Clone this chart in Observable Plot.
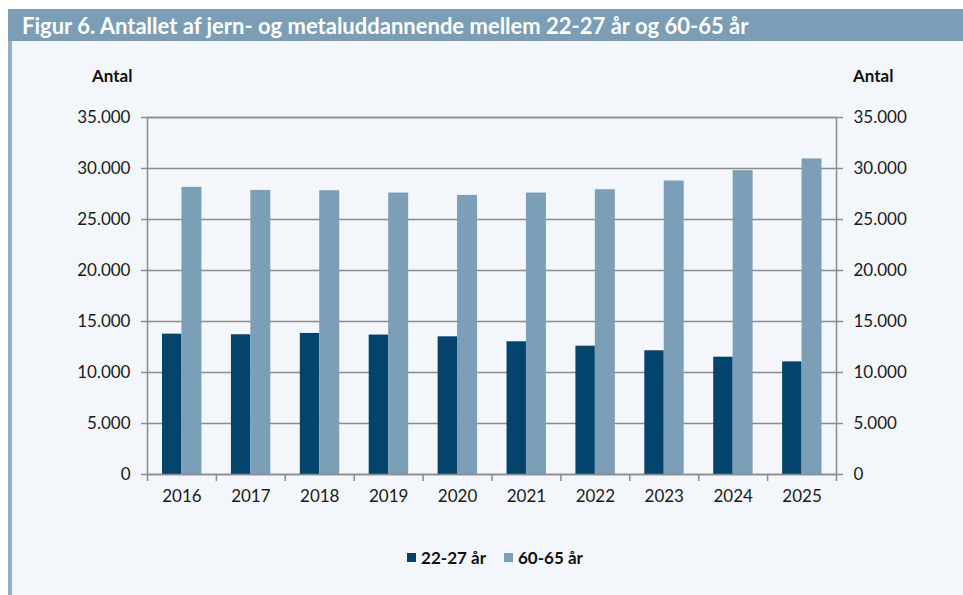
<!DOCTYPE html>
<html><head><meta charset="utf-8">
<script src="https://cdn.jsdelivr.net/npm/d3@7"></script>
<script src="https://cdn.jsdelivr.net/npm/@observablehq/plot@0.6"></script>
<style>
body{margin:0;background:#fff;}
#wrap{position:relative;width:963px;height:595px;background:#fff;font-family:Lato,"Open Sans",sans-serif;overflow:hidden}
#panel{position:absolute;left:8px;top:41px;width:955px;height:554px;background:#f3f6fa;border-left:4px solid #8fb0c6;box-sizing:border-box}
#title{position:absolute;left:8px;top:9px;width:955px;height:32px;background:#7b9db5;color:#fff;font-weight:700;font-size:22px;line-height:33px;padding-left:14px;box-sizing:border-box;white-space:nowrap}
#chart{position:absolute;left:0;top:50px}
.ylab{position:absolute;top:65px;font-weight:700;font-size:17px;color:#111}
#legend{position:absolute;top:545px;left:0;width:990px;text-align:center;font-weight:700;font-size:17px;color:#111}
#legend span.item{display:inline-flex;align-items:center;margin:0 9px}
#legend span.sw{display:inline-block;width:9px;height:9px;margin-right:5px}
</style></head>
<body>
<div id="wrap">
  <div id="panel"></div>
  <div id="title">Figur 6. Antallet af jern- og metaluddannende mellem 22-27 år og 60-65 år</div>
  <div id="chart"></div>
  <div class="ylab" style="left:92px">Antal</div>
  <div class="ylab" style="left:853px">Antal</div>
  <div id="legend"></div>
</div>
<script>
const years = ["2016","2017","2018","2019","2020","2021","2022","2023","2024","2025"];
const seriesNames = ["22-27 år", "60-65 år"];
const young = [13760, 13700, 13830, 13670, 13500, 13010, 12580, 12130, 11500, 11040];
const old = [28150, 27850, 27820, 27590, 27360, 27590, 27920, 28770, 29790, 30940];
const yTicks = [0, 5000, 10000, 15000, 20000, 25000, 30000, 35000];
const colors = ["#03436c", "#7c9fb8"];

const W = 963, H = 470, mL = 147, mR = 127, mT = 67, mB = 46;
const bw = (W - mL - mR) / years.length;
const fmt = d3.formatLocale({decimal: ",", thousands: ".", grouping: [3], currency: ["", " kr"]}).format(",");

const dataYoung = years.map((y, i) => ({year: y, value: young[i]}));
const dataOld = years.map((y, i) => ({year: y, value: old[i]}));

const grid = "#8c8c8c";
const chart = Plot.plot({
  width: W, height: H,
  marginLeft: mL, marginRight: mR, marginTop: mT, marginBottom: mB,
  style: {background: "transparent", fontFamily: "Lato, 'Open Sans', sans-serif", fontSize: "17px", color: "#1a1a1a"},
  x: {domain: years, padding: 0, round: false, label: null},
  y: {domain: [0, 35000], label: null},
  marks: [
    Plot.gridY(yTicks, {stroke: grid, strokeOpacity: 1, strokeWidth: 1.5}),
    Plot.barY(dataYoung, {x: "year", y: "value", fill: colors[0], insetLeft: bw * 0.218, insetRight: bw * 0.5}),
    Plot.barY(dataOld, {x: "year", y: "value", fill: colors[1], insetLeft: bw * 0.5, insetRight: bw * 0.21}),
    Plot.frame({stroke: grid, strokeWidth: 1.5}),
    Plot.ruleX(years, {x: d => d, y1: 0, y2: 0, dx: -bw / 2, insetBottom: -7, stroke: grid, strokeWidth: 1.5}),
    Plot.ruleX(years.slice(-1), {x: d => d, y1: 0, y2: 0, dx: bw / 2, insetBottom: -7, stroke: grid, strokeWidth: 1.5}),
    Plot.axisY(yTicks, {anchor: "left", tickSize: 6, tickPadding: 11, tickFormat: fmt, stroke: grid, strokeWidth: 1.5, label: null}),
    Plot.axisY(yTicks, {anchor: "right", tickSize: 6, tickPadding: 11, tickFormat: fmt, stroke: grid, strokeWidth: 1.5, label: null}),
    Plot.axisX({tickSize: 0, tickPadding: 15, label: null})
  ]
});
document.getElementById("chart").appendChild(chart);

const legend = document.getElementById("legend");
seriesNames.forEach((n, i) => {
  const item = document.createElement("span");
  item.className = "item";
  const sw = document.createElement("span");
  sw.className = "sw";
  sw.style.background = colors[i];
  item.appendChild(sw);
  item.appendChild(document.createTextNode(n));
  legend.appendChild(item);
});
</script>
</body></html>
